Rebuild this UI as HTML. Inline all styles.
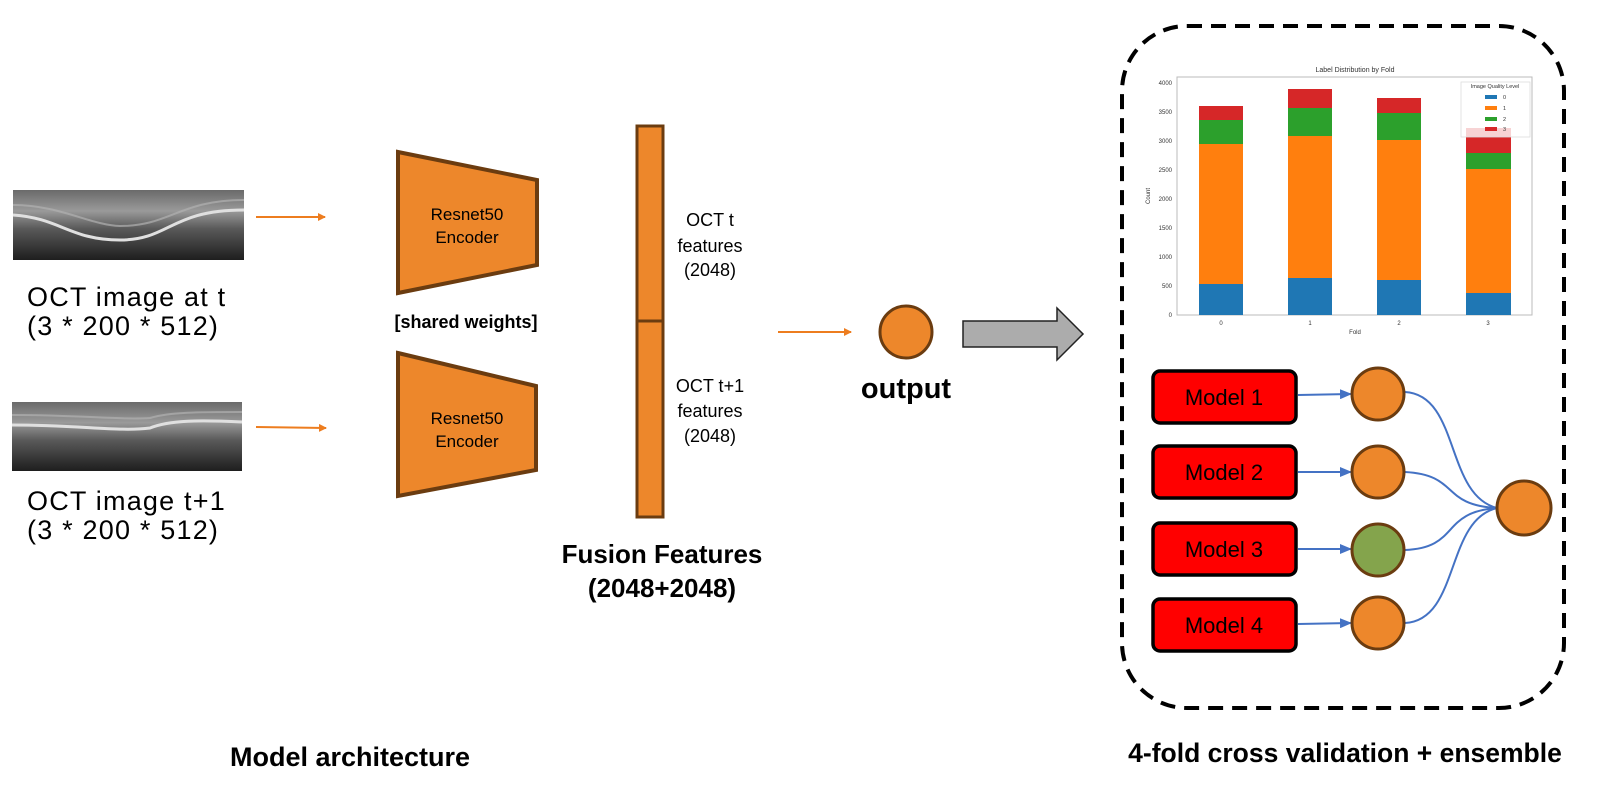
<!DOCTYPE html>
<html><head><meta charset="utf-8"><style>
html,body{margin:0;padding:0;background:#fff;}
svg{display:block;}
text{font-family:"Liberation Sans",sans-serif;}
</style></head><body>
<svg width="1597" height="786" viewBox="0 0 1597 786" xmlns="http://www.w3.org/2000/svg">
<defs>
<linearGradient id="oct" x1="0" y1="0" x2="0" y2="1">
<stop offset="0" stop-color="#6a6a6a"/><stop offset="0.3" stop-color="#9a9a9a"/><stop offset="0.55" stop-color="#5a5a5a"/><stop offset="1" stop-color="#1e1e1e"/>
</linearGradient>
<marker id="ao" markerWidth="8" markerHeight="8" refX="7" refY="4" orient="auto" markerUnits="userSpaceOnUse"><path d="M0,0 L8,4 L0,8z" fill="#ed7d1f"/></marker>
<marker id="ab" markerWidth="12" markerHeight="10" refX="11" refY="5" orient="auto" markerUnits="userSpaceOnUse"><path d="M0,0 L12,5 L0,10z" fill="#4472c4"/></marker>
</defs>

<!-- OCT images -->
<rect x="13" y="190" width="231" height="70" fill="url(#oct)"/>
<path d="M13,215 C60,218 70,240 120,240 C170,240 170,210 244,210" stroke="#e0e0e0" stroke-width="3" fill="none"/>
<path d="M13,205 C60,205 90,225 120,226 C170,226 180,200 244,200" stroke="#b0b0b0" stroke-width="2" fill="none" opacity="0.7"/>
<rect x="12" y="402" width="230" height="69" fill="url(#oct)"/>
<path d="M12,425 C80,425 120,432 150,428 C170,420 200,420 242,422" stroke="#e0e0e0" stroke-width="3" fill="none"/>
<path d="M12,415 C80,415 120,420 150,418 C170,412 200,412 242,412" stroke="#b0b0b0" stroke-width="2" fill="none" opacity="0.7"/>

<g font-size="27" letter-spacing="1.2">
<text x="27" y="306">OCT image at t</text>
<text x="27" y="335">(3 * 200 * 512)</text>
<text x="27" y="510">OCT image t+1</text>
<text x="27" y="539">(3 * 200 * 512)</text>
</g>

<line x1="256" y1="217" x2="325" y2="217" stroke="#ed7d1f" stroke-width="2" marker-end="url(#ao)"/>
<line x1="256" y1="427" x2="326" y2="428" stroke="#ed7d1f" stroke-width="2" marker-end="url(#ao)"/>

<!-- encoders -->
<polygon points="398,152 537,180 537,265 398,293" fill="#ed872b" stroke="#6b3c10" stroke-width="4"/>
<text x="467" y="220" font-size="17" text-anchor="middle">Resnet50</text>
<text x="467" y="243" font-size="17" text-anchor="middle">Encoder</text>
<text x="466" y="328" font-size="18" font-weight="bold" text-anchor="middle">[shared weights]</text>
<polygon points="398,353 536,386 536,470 398,496" fill="#ed872b" stroke="#6b3c10" stroke-width="4"/>
<text x="467" y="424" font-size="17" text-anchor="middle">Resnet50</text>
<text x="467" y="447" font-size="17" text-anchor="middle">Encoder</text>

<!-- fusion bar -->
<rect x="637" y="126" width="26" height="391" fill="#ed872b" stroke="#6b3c10" stroke-width="3"/>
<line x1="637" y1="321" x2="663" y2="321" stroke="#6b3c10" stroke-width="3"/>
<g font-size="18" text-anchor="middle">
<text x="710" y="226">OCT t</text>
<text x="710" y="252">features</text>
<text x="710" y="276">(2048)</text>
<text x="710" y="392">OCT t+1</text>
<text x="710" y="417">features</text>
<text x="710" y="442">(2048)</text>
</g>
<text x="662" y="563" font-size="26" font-weight="bold" text-anchor="middle">Fusion Features</text>
<text x="662" y="597" font-size="26" font-weight="bold" text-anchor="middle">(2048+2048)</text>

<line x1="778" y1="332" x2="851" y2="332" stroke="#ed7d1f" stroke-width="2" marker-end="url(#ao)"/>
<circle cx="906" cy="332" r="26" fill="#ed872b" stroke="#6b3c10" stroke-width="3"/>
<text x="906" y="398" font-size="29" font-weight="bold" text-anchor="middle">output</text>
<polygon points="963,321 1057,321 1057,308 1083,334 1057,360 1057,347 963,347" fill="#acacac" stroke="#222" stroke-width="1.5"/>

<!-- dashed box -->
<rect x="1122" y="26" width="442" height="682" rx="65" ry="65" fill="none" stroke="#000" stroke-width="4" stroke-dasharray="15 9"/>

<!-- chart -->
<text x="1355" y="72" font-size="7" text-anchor="middle" fill="#333">Label Distribution by Fold</text>
<rect x="1177" y="77" width="355" height="238" fill="none" stroke="#bbb" stroke-width="1"/>
<g font-size="6" fill="#333" text-anchor="end">
<text x="1172" y="317">0</text><text x="1172" y="288">500</text><text x="1172" y="259">1000</text><text x="1172" y="230">1500</text><text x="1172" y="201">2000</text><text x="1172" y="172">2500</text><text x="1172" y="143">3000</text><text x="1172" y="114">3500</text><text x="1172" y="85">4000</text>
</g>
<text x="1150" y="196" font-size="6" fill="#333" text-anchor="middle" transform="rotate(-90 1150 196)">Count</text>
<g font-size="6" fill="#333" text-anchor="middle">
<text x="1221" y="325">0</text><text x="1310" y="325">1</text><text x="1399" y="325">2</text><text x="1488" y="325">3</text>
<text x="1355" y="334">Fold</text>
</g>
<rect x="1199" y="284" width="44" height="31" fill="#1f77b4"/>
<rect x="1199" y="144" width="44" height="140" fill="#ff7f0e"/>
<rect x="1199" y="120" width="44" height="24" fill="#2ca02c"/>
<rect x="1199" y="106" width="44" height="14" fill="#d62728"/>
<rect x="1288" y="278" width="44" height="37" fill="#1f77b4"/>
<rect x="1288" y="136" width="44" height="142" fill="#ff7f0e"/>
<rect x="1288" y="108" width="44" height="28" fill="#2ca02c"/>
<rect x="1288" y="89" width="44" height="19" fill="#d62728"/>
<rect x="1377" y="280" width="44" height="35" fill="#1f77b4"/>
<rect x="1377" y="140" width="44" height="140" fill="#ff7f0e"/>
<rect x="1377" y="113" width="44" height="27" fill="#2ca02c"/>
<rect x="1377" y="98" width="44" height="15" fill="#d62728"/>
<rect x="1466" y="293" width="45" height="22" fill="#1f77b4"/>
<rect x="1466" y="169" width="45" height="124" fill="#ff7f0e"/>
<rect x="1466" y="153" width="45" height="16" fill="#2ca02c"/>
<rect x="1466" y="128" width="45" height="25" fill="#d62728"/>
<rect x="1461" y="82" width="69" height="55" fill="#fff" fill-opacity="0.8" stroke="#ddd" stroke-width="0.8"/>
<text x="1495" y="88" font-size="5.5" text-anchor="middle" fill="#333">Image Quality Level</text>
<rect x="1485" y="95" width="12" height="4" fill="#1f77b4"/><text x="1503" y="99" font-size="5.5" fill="#333">0</text>
<rect x="1485" y="106" width="12" height="4" fill="#ff7f0e"/><text x="1503" y="110" font-size="5.5" fill="#333">1</text>
<rect x="1485" y="117" width="12" height="4" fill="#2ca02c"/><text x="1503" y="121" font-size="5.5" fill="#333">2</text>
<rect x="1485" y="127" width="12" height="4" fill="#d62728"/><text x="1503" y="131" font-size="5.5" fill="#333">3</text>

<!-- models -->
<g stroke="#000" stroke-width="3.5" fill="#ff0000">
<rect x="1153" y="371" width="143" height="52" rx="7"/>
<rect x="1153" y="446" width="143" height="52" rx="7"/>
<rect x="1153" y="523" width="143" height="52" rx="7"/>
<rect x="1153" y="599" width="143" height="52" rx="7"/>
</g>
<g font-size="22" text-anchor="middle">
<text x="1224" y="405">Model 1</text>
<text x="1224" y="480">Model 2</text>
<text x="1224" y="557">Model 3</text>
<text x="1224" y="633">Model 4</text>
</g>
<g stroke="#4472c4" stroke-width="2" fill="none">
<line x1="1298" y1="395" x2="1351" y2="394" marker-end="url(#ab)"/>
<line x1="1298" y1="472" x2="1351" y2="472" marker-end="url(#ab)"/>
<line x1="1298" y1="549" x2="1351" y2="549" marker-end="url(#ab)"/>
<line x1="1298" y1="624" x2="1351" y2="623" marker-end="url(#ab)"/>
<path d="M1405,392 C1460,395 1445,495 1497,508"/>
<path d="M1405,472 C1460,475 1440,505 1497,508"/>
<path d="M1405,550 C1460,548 1440,512 1497,508"/>
<path d="M1405,623 C1460,620 1445,520 1497,508"/>
</g>
<g stroke="#6b3c10" stroke-width="3">
<circle cx="1378" cy="394" r="26" fill="#ed872b"/>
<circle cx="1378" cy="472" r="26" fill="#ed872b"/>
<circle cx="1378" cy="550" r="26" fill="#84a44c"/>
<circle cx="1378" cy="623" r="26" fill="#ed872b"/>
<circle cx="1524" cy="508" r="27" fill="#ed872b"/>
</g>

<text x="350" y="766" font-size="27" font-weight="bold" text-anchor="middle">Model architecture</text>
<text x="1345" y="762" font-size="26.5" font-weight="bold" text-anchor="middle">4-fold cross validation + ensemble</text>
</svg>
</body></html>
